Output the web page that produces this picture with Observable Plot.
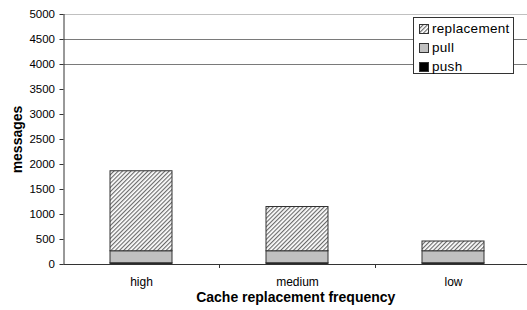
<!DOCTYPE html>
<html>
<head>
<meta charset="utf-8">
<script src="https://cdn.jsdelivr.net/npm/d3@7"></script>
<script src="https://cdn.jsdelivr.net/npm/@observablehq/plot@0.6"></script>
<style>
  html, body { margin: 0; padding: 0; background: #fff; }
  #wrap { position: relative; width: 527px; height: 310px; overflow: hidden; font-family: "Liberation Sans", Arial, sans-serif; }
  #legend { position: absolute; left: 413px; top: 17px; width: 99px; height: 55px; border: 1px solid #333; background: #fff; font-size: 13.5px; letter-spacing: 0.3px; color: #000; }
  .row { position: absolute; left: 5px; height: 16px; line-height: 16px; display: flex; align-items: center; white-space: nowrap; }
  .row svg { margin-right: 2px; }
</style>
</head>
<body>
<div id="wrap"></div>
<script>
const categories = ["high", "medium", "low"];
const push = [25, 25, 25];
const pull = [240, 240, 240];
const replacement = [1600, 885, 195];
const seriesNames = ["push", "pull", "replacement"];
const seriesFills = ["#000000", "#c0c0c0", "url(#hatch)"];
const yTicks = [0, 500, 1000, 1500, 2000, 2500, 3000, 3500, 4000, 4500, 5000];
const gridValues = [4000, 4500];
const topValue = [5000];
const xTitle = "Cache replacement frequency";
const yTitle = "messages";
const legendOrder = ["replacement", "pull", "push"];

const seriesValues = {push, pull, replacement};
const rows = [];
seriesNames.forEach(s => categories.forEach((c, i) => rows.push({category: c, series: s, value: seriesValues[s][i]})));

const x0 = 63.5, x1 = 531.5;
const step = (x1 - x0) / categories.length;

const chart = Plot.plot({
  width: 527,
  height: 310,
  marginTop: 14,
  marginBottom: 46,
  marginLeft: x0,
  marginRight: 0,
  style: {fontFamily: "Liberation Sans, Arial, sans-serif", color: "#000", background: "transparent"},
  x: {domain: categories, range: [x0, x1], paddingInner: 0.6, paddingOuter: 0.3},
  y: {domain: [0, 5000]},
  color: {domain: seriesNames, range: seriesFills},
  marks: [
    Plot.ruleY(gridValues, {stroke: "#7a7a7a", strokeWidth: 1}),
    Plot.ruleY(topValue, {stroke: "#c0c0c0", strokeWidth: 1}),
    Plot.barY(rows, {x: "category", y: "value", z: "series", fill: "series", order: seriesNames, stroke: "#333", strokeWidth: 1}),
    Plot.axisY({ticks: yTicks, tickSize: 4, tickPadding: 5, fontSize: 11.5, label: null, tickFormat: d => String(d), stroke: "#333"}),
    Plot.axisX({tickSize: 0, tickPadding: 13, fontSize: 12, label: null}),
    Plot.ruleX(categories.slice(0, -1), {x: d => d, dx: step / 2, y1: 0, y2: 0, insetBottom: -4, stroke: "#333"}),
    Plot.frame({anchor: "left", stroke: "#333"}),
    Plot.frame({anchor: "bottom", stroke: "#333"}),
    Plot.text([xTitle], {frameAnchor: "bottom", dy: 33, lineAnchor: "middle", textAnchor: "middle", fontSize: 14, fontWeight: "bold", fill: "#000"}),
    Plot.text([yTitle], {frameAnchor: "left", dx: -46, rotate: -90, lineAnchor: "middle", textAnchor: "middle", fontSize: 14, fontWeight: "bold", fill: "#000"})
  ]
});

d3.select(chart).insert("defs", ":first-child").html(
  '<pattern id="hatch" width="3" height="3" patternUnits="userSpaceOnUse" patternTransform="rotate(45)">' +
  '<rect width="3" height="3" fill="#fff"/>' +
  '<line x1="0.5" y1="0" x2="0.5" y2="3" stroke="#6a6a6a" stroke-width="1.3"/></pattern>'
);

const wrap = document.getElementById("wrap");
wrap.appendChild(chart);

const legend = document.createElement("div");
legend.id = "legend";
const fillOf = Object.fromEntries(seriesNames.map((s, i) => [s, seriesFills[i]]));
legendOrder.forEach((s, i) => {
  const row = document.createElement("div");
  row.className = "row";
  row.style.top = (3 + i * 19) + "px";
  row.innerHTML = `<svg width="11" height="11"><rect x="0.5" y="0.5" width="9" height="9" fill="${fillOf[s]}" stroke="#333"/></svg><span>${s}</span>`;
  legend.appendChild(row);
});
wrap.appendChild(legend);
</script>
</body>
</html>
